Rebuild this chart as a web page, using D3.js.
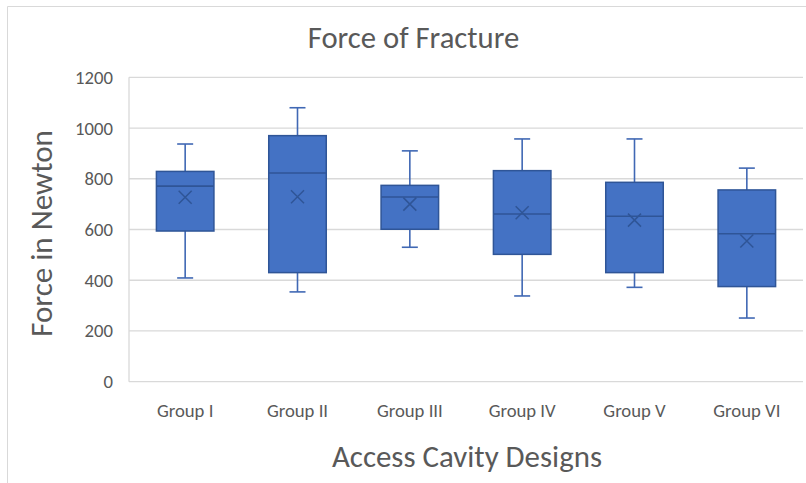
<!DOCTYPE html>
<html>
<head>
<meta charset="utf-8">
<script src="https://cdn.jsdelivr.net/npm/d3@7"></script>
<style>
  html, body { margin: 0; padding: 0; background: #fff; }
  svg { display: block; }
  text { font-family: Carlito, Calibri, "Liberation Sans Narrow", "Open Sans", sans-serif; fill: #595959; }
</style>
</head>
<body>
<svg id="chart" width="806" height="483"></svg>
<script>
const categories = ["Group I", "Group II", "Group III", "Group IV", "Group V", "Group VI"];
const whiskerLow  = [409, 354, 530, 338, 372, 251];
const q1Values    = [594, 430, 601, 502, 430, 375];
const medianValues= [771, 823, 728, 661, 652, 583];
const q3Values    = [829, 970, 774, 832, 786, 756];
const whiskerHigh = [937, 1080, 910, 957, 957, 842];
const meanValues  = [727, 729, 700, 666, 637, 555];
const yTicks = [0, 200, 400, 600, 800, 1000, 1200];

const chartTitle = "Force of Fracture";
const xTitle = "Access Cavity Designs";
const yTitle = "Force in Newton";

const W = 806, H = 483;
const margin = { left: 129, right: 3, top: 77.3, bottom: 101.3 };
const svg = d3.select("#chart");

// chart border (left + top visible)
svg.append("path")
  .attr("d", `M7.5,${H} L7.5,6.5 L${W},6.5`)
  .attr("fill", "none").attr("stroke", "#d9d9d9").attr("stroke-width", 1);

const x = d3.scaleBand().domain(categories).range([margin.left, W - margin.right]).padding(0);
const y = d3.scaleLinear().domain([0, 1200]).range([H - margin.bottom, margin.top]);

// gridlines
svg.append("g").selectAll("line").data(yTicks).join("line")
  .attr("x1", margin.left).attr("x2", W - margin.right)
  .attr("y1", d => y(d)).attr("y2", d => y(d))
  .attr("stroke", "#d9d9d9").attr("stroke-width", 1.3);

// vertical axis line
svg.append("line")
  .attr("x1", margin.left).attr("x2", margin.left)
  .attr("y1", y(1200)).attr("y2", y(0))
  .attr("stroke", "#d9d9d9").attr("stroke-width", 1.3);

// y axis labels
const yAxis = d3.axisLeft(y).tickValues(yTicks).tickFormat(d3.format("d")).tickSize(0).tickPadding(16);
const gy = svg.append("g").attr("transform", `translate(${margin.left},0)`).call(yAxis);
gy.select(".domain").remove();
gy.selectAll("text").style("font-size", "18.7px").attr("fill", "#595959")
  .style("font-family", "Carlito, Calibri, 'Liberation Sans Narrow', 'Open Sans', sans-serif");

// x axis labels
const xAxis = d3.axisBottom(x).tickSize(0).tickPadding(22);
const gx = svg.append("g").attr("transform", `translate(0,${y(0)})`).call(xAxis);
gx.select(".domain").remove();
gx.selectAll("text").style("font-size", "18.7px").attr("fill", "#595959")
  .style("font-family", "Carlito, Calibri, 'Liberation Sans Narrow', 'Open Sans', sans-serif");

const data = categories.map((c, i) => ({
  c, lo: whiskerLow[i], q1: q1Values[i], med: medianValues[i],
  q3: q3Values[i], hi: whiskerHigh[i], mean: meanValues[i]
}));

const boxW = x.bandwidth() * 0.512;
const capW = 16;
const mk = 6.5;
const boxes = svg.append("g").selectAll("g").data(data).join("g")
  .attr("transform", d => `translate(${x(d.c) + x.bandwidth() / 2},0)`);

const whiskColor = "#4068b4";
// whiskers
boxes.append("line").attr("x1", 0).attr("x2", 0)
  .attr("y1", d => y(d.hi)).attr("y2", d => y(d.q3))
  .attr("stroke", whiskColor).attr("stroke-width", 1.6);
boxes.append("line").attr("x1", 0).attr("x2", 0)
  .attr("y1", d => y(d.q1)).attr("y2", d => y(d.lo))
  .attr("stroke", whiskColor).attr("stroke-width", 1.6);
boxes.append("line").attr("x1", -capW / 2).attr("x2", capW / 2)
  .attr("y1", d => y(d.hi)).attr("y2", d => y(d.hi))
  .attr("stroke", whiskColor).attr("stroke-width", 1.6);
boxes.append("line").attr("x1", -capW / 2).attr("x2", capW / 2)
  .attr("y1", d => y(d.lo)).attr("y2", d => y(d.lo))
  .attr("stroke", whiskColor).attr("stroke-width", 1.6);

// box
boxes.append("rect")
  .attr("x", -boxW / 2).attr("width", boxW)
  .attr("y", d => y(d.q3)).attr("height", d => y(d.q1) - y(d.q3))
  .attr("fill", "#4472c4").attr("stroke", "#2f5597").attr("stroke-width", 1.5);

// median
boxes.append("line").attr("x1", -boxW / 2).attr("x2", boxW / 2)
  .attr("y1", d => y(d.med)).attr("y2", d => y(d.med))
  .attr("stroke", "#2f5597").attr("stroke-width", 1.6);

// mean marker (x)
boxes.append("path")
  .attr("d", d => { const cy = y(d.mean); return `M${-mk},${cy - mk}L${mk},${cy + mk}M${-mk},${cy + mk}L${mk},${cy - mk}`; })
  .attr("stroke", "#2f5597").attr("stroke-width", 1.5).attr("fill", "none");

// titles
svg.append("text").attr("x", 413.5).attr("y", 48).attr("text-anchor", "middle")
  .style("font-size", "30.7px").text(chartTitle);
svg.append("text").attr("x", 467).attr("y", 467).attr("text-anchor", "middle")
  .style("font-size", "30.9px").text(xTitle);
svg.append("text").attr("transform", "translate(52,233.5) rotate(-90)").attr("text-anchor", "middle")
  .style("font-size", "31px").text(yTitle);
</script>
</body>
</html>
